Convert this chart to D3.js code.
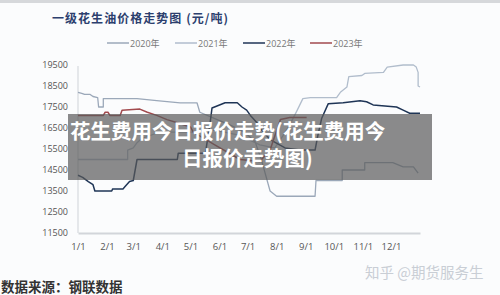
<!DOCTYPE html>
<html>
<head>
<meta charset="utf-8">
<script src="https://cdn.jsdelivr.net/npm/d3@7"></script>
<style>
  body { margin: 0; background: #fbfcfd; }
  svg { display: block; }
  .tick text { font-family: "Open Sans", "Noto Sans", sans-serif; fill: #555; }
</style>
</head>
<body>
<div id="chart"></div>
<script>
// tick labels
var yTicks = [11500, 12500, 13500, 14500, 15500, 16500, 17500, 18500, 19500];
var monthDays = [0, 31, 59, 90, 120, 151, 181, 212, 243, 273, 304, 334];
var monthLabels = ["1/1", "2/1", "3/1", "4/1", "5/1", "6/1", "7/1", "8/1", "9/1", "10/1", "11/1", "12/1"];

// series: [day of year, price]
var s2020 = [[0,18200],[4,18150],[7,18100],[13,18100],[16,18000],[21,17950],[22,17500],[27,17500],[27,17900],
  [42,17900],[63,17900],[84,17800],[109,17700],[127,17700],[130,17250],[146,16950],[162,16650],[178,16300],
  [189,15850],[196,14950],[205,13500],[212,13250],[253,13250],[254,14000],[282,14000],[282,14500],[306,14500],
  [306,14850],[336,14850],[347,14650],[358,14650],[363,14350]];
var s2021 = [[0,15000],[53,15000],[53,15450],[59,15550],[63,15800],[68,16000],[74,16100],[84,16250],[98,16300],
  [120,16300],[146,16400],[173,16150],[194,15700],[210,15550],[219,16150],[226,16650],[234,17350],[240,17900],
  [248,17950],[276,17950],[280,18200],[287,18450],[289,18950],[303,19000],[306,19100],[326,19150],[330,19400],
  [347,19500],[358,19500],[361,19400],[363,19150],[363,18500],[365,18450]];
var s2022 = [[0,14250],[5,14150],[11,13950],[16,13800],[18,13500],[36,13500],[37,13600],[48,13600],[50,13700],
  [55,13950],[59,14000],[61,14500],[63,15000],[106,15000],[107,15300],[136,15300],[141,16750],[143,17450],
  [157,17700],[170,17700],[175,17500],[180,17350],[184,17100],[191,16750],[196,16400],[205,15950],[221,15550],
  [237,15450],[253,15450],[256,16150],[260,16950],[267,17650],[283,17700],[301,17800],[308,17750],[315,17600],
  [340,17500],[347,17350],[354,17200],[365,17200]];
var s2023 = [[0,17100],[27,17100],[29,17250],[32,17250],[34,17100],[45,17100],[47,17350],[66,17400],[74,17250],
  [84,17100],[95,16900],[106,16750],[120,16550],[123,16300],[146,15700],[173,15000],[194,14900],[205,15450],
  [216,16900],[226,17000],[244,17000]];

var seriesNames = ["2020年", "2021年", "2022年", "2023年"];
var seriesData = [s2020, s2021, s2022, s2023];
var seriesColors = ["#9ba8b9", "#b1bdcc", "#1f3556", "#a24a4e"];

var svg = d3.select("#chart").append("svg")
    .attr("width", 500)
    .attr("height", 295);

// top border
svg.append("rect").attr("x", 0).attr("y", 0).attr("width", 500).attr("height", 3).attr("fill", "#d6d8db");

var x = d3.scaleLinear().domain([0, 365]).range([78, 420]);
var y = d3.scaleLinear().domain([11500, 19500]).range([233, 65]);

// title
svg.append("text")
    .attr("x", 52).attr("y", 23)
    .attr("textLength", 176)
    .attr("font-family", "Noto Sans CJK SC")
    .attr("font-weight", 700)
    .attr("font-size", 12)
    .attr("fill", "#2c3f6e")
    .text("一级花生油价格走势图 (元/吨)");

// legend
var legendX = [107, 175, 243, 310];
seriesNames.forEach(function (name, i) {
    svg.append("line")
        .attr("x1", legendX[i]).attr("x2", legendX[i] + 22)
        .attr("y1", 43).attr("y2", 43)
        .attr("stroke", seriesColors[i]).attr("stroke-width", 1.5);
    svg.append("text")
        .attr("x", legendX[i] + 23).attr("y", 46.5)
        .attr("font-family", "Open Sans, Noto Sans CJK SC")
        .attr("font-size", 9)
        .attr("fill", "#777")
        .text(name);
});

// y axis
var yAxis = svg.append("g")
    .attr("transform", "translate(78,0)")
    .call(d3.axisLeft(y).tickValues(yTicks).tickSize(0).tickPadding(10).tickFormat(d3.format("d")));
yAxis.select(".domain").remove();
yAxis.selectAll("text").attr("font-size", 9);
svg.append("line")
    .attr("x1", 78).attr("x2", 78).attr("y1", 66).attr("y2", 233)
    .attr("stroke", "#cfd3d8").attr("stroke-width", 1);

// x axis
var xAxis = svg.append("g")
    .attr("transform", "translate(0,233)")
    .call(d3.axisBottom(x).tickValues(monthDays).tickSize(0).tickPadding(10)
        .tickFormat(function (d, i) { return monthLabels[i]; }));
xAxis.select(".domain").attr("stroke", "#d2d5da").attr("stroke-width", 2);
xAxis.selectAll("text").attr("font-size", 9.5);

// lines
var line = d3.line()
    .x(function (d) { return x(d[0]); })
    .y(function (d) { return y(d[1]); });

seriesData.forEach(function (data, i) {
    svg.append("path")
        .attr("fill", "none")
        .attr("stroke", seriesColors[i])
        .attr("stroke-width", i >= 2 ? 1.5 : 1.3)
        .attr("stroke-linejoin", "round")
        .attr("d", line(data));
});

// overlay banner
svg.append("rect")
    .attr("x", 68).attr("y", 114).attr("width", 364).attr("height", 66)
    .attr("fill", "#5a5a5a").attr("fill-opacity", 0.7);
svg.append("text")
    .attr("x", 70).attr("y", 139)
    .attr("font-family", "Noto Sans CJK SC").attr("font-weight", 700).attr("font-size", 20.5)
    .attr("fill", "#fff")
    .text("花生费用今日报价走势(花生费用今");
svg.append("text")
    .attr("x", 182).attr("y", 166)
    .attr("font-family", "Noto Sans CJK SC").attr("font-weight", 700).attr("font-size", 20.5)
    .attr("fill", "#fff")
    .text("日报价走势图)");

// source + watermark
svg.append("text")
    .attr("x", 1).attr("y", 292)
    .attr("font-family", "Noto Sans CJK SC").attr("font-weight", 700).attr("font-size", 13.5)
    .attr("fill", "#333")
    .text("数据来源：钢联数据");
svg.append("text")
    .attr("x", 365).attr("y", 278)
    .attr("font-family", "Noto Sans CJK SC").attr("font-size", 14.5)
    .attr("fill", "#c9ced5")
    .text("知乎 @期货服务生");
</script>
</body>
</html>
